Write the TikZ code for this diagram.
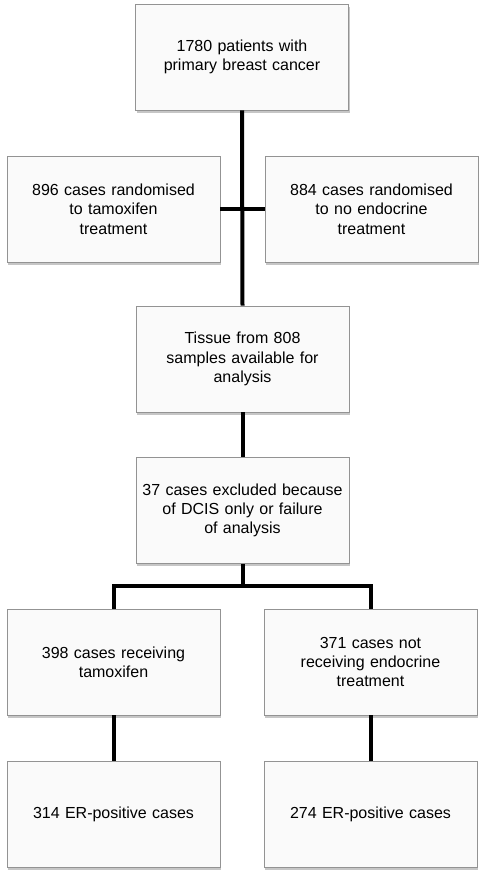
\documentclass[tikz,border=0pt]{standalone}
\usepackage{fontspec}
\setmainfont{Liberation Sans}
\usetikzlibrary{shadows}

\tikzset{
    stagebox/.style={draw=gray!85, line width=0.8pt, fill=black!2,
        minimum width=213pt, minimum height=106pt, text width=210pt,
        align=center, inner sep=0pt,
        font=\fontsize{16}{19.3}\selectfont,
        drop shadow={shadow xshift=1pt, shadow yshift=-2.5pt, opacity=0.45}},
    link/.style={line width=4pt, black}
}

\begin{document}
\begin{tikzpicture}[x=1pt, y=-1pt]
    \useasboundingbox (0,0) rectangle (486,878);

    % boxes
    \node [stagebox] (all)  at (242, 57)  {1780 patients with\\primary breast cancer};
    \node [stagebox] (tam)  at (113.5, 209) {896 cases randomised\\to tamoxifen\\treatment};
    \node [stagebox] (none) at (371.5, 209) {884 cases randomised\\to no endocrine\\treatment};
    \node [stagebox] (tis)  at (242.5, 359) {Tissue from 808\\samples available for\\analysis};
    \node [stagebox] (excl) at (242.5, 510.5) {\hbox{37 cases excluded because}\\of DCIS only or failure\\of analysis};
    \node [stagebox] (rtam) at (113.5, 662) {398 cases receiving\\tamoxifen\\[9pt]};
    \node [stagebox] (rno)  at (370.5, 662) {371 cases not\\receiving endocrine\\treatment};
    \node [stagebox] (ptam) at (113.5, 814) {314 ER-positive cases};
    \node [stagebox] (pno)  at (370.5, 814) {274 ER-positive cases};

    % connectors
    \draw [link] (all.south) -- (tis.north);
    \draw [link] (tam.east) -- (none.west);
    \draw [link] (tis.south) -- (excl.north);
    \coordinate (split) at (242.5, 586);
    \draw [link] (excl.south) -- (split);
    \draw [link, line join=miter] (rtam.north) |- (split) -| (rno.north);
    \draw [link] (rtam.south) -- (ptam.north);
    \draw [link] (rno.south) -- (pno.north);
\end{tikzpicture}
\end{document}
